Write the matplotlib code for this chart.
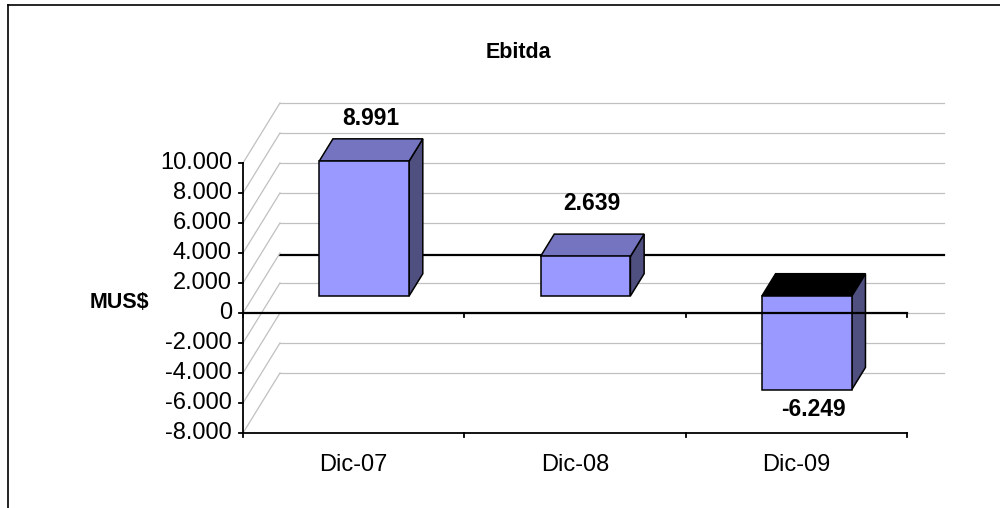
import matplotlib.pyplot as plt
from matplotlib.patches import Polygon

plt.rcParams['font.family'] = ['Liberation Sans', 'DejaVu Sans']

# data
categories = ['Dic-07', 'Dic-08', 'Dic-09']
ebitda = [8991, 2639, -6249]
value_labels = ['8.991', '2.639', '-6.249']
y_ticks = [-8000, -6000, -4000, -2000, 0, 2000, 4000, 6000, 8000, 10000]
y_tick_labels = ['-8.000', '-6.000', '-4.000', '-2.000', '0',
                 '2.000', '4.000', '6.000', '8.000', '10.000']

# fake 3d: depth d in [0, 1] shifts a point right and up
DX, DY = 0.167, 4000
D_FRONT, D_BACK = 0.283, 0.655   # depth of bar front / back faces
HALF_W = 0.203

def proj(x, v, d):
    return (x + d * DX, v + d * DY)

fig = plt.figure(figsize=(10, 5.08), dpi=100)
ax = fig.add_axes([0, 0, 1, 1])
# front axis: x 0..3 -> 243..907 px, value 0 at 313 px from top, 15 px per 1000
ax.set_xlim(-243 / 221.33, (1000 - 243) / 221.33)
ax.set_ylim((313 - 508) / 0.015, 313 / 0.015)
ax.axis('off')

n = len(categories)
grid_c = '#c0c0c0'

# back wall + left wall grid
for v in y_ticks:
    (x0, y0), (x1, y1) = proj(0, v, 1), proj(n, v, 1)
    if v == 0:
        ax.plot([x0, x1], [y0 - 150, y1 - 150], color='black', lw=1.6, zorder=1)
    else:
        ax.plot([x0, x1], [y0, y1], color=grid_c, lw=0.9, zorder=1)
    (a0, b0), (a1, b1) = proj(0, v, 0), proj(0, v, 1)
    ax.plot([a0, a1], [b0, b1], color=grid_c, lw=0.9, zorder=1)

# bars
for i, val in enumerate(ebitda):
    xc = i + 0.5
    l, r = xc - HALF_W, xc + HALF_W
    top = max(val, 0)
    front = [proj(l, 0, D_FRONT), proj(r, 0, D_FRONT), proj(r, val, D_FRONT), proj(l, val, D_FRONT)]
    side = [proj(r, 0, D_FRONT), proj(r, val, D_FRONT), proj(r, val, D_BACK), proj(r, 0, D_BACK)]
    cap = [proj(l, top, D_FRONT), proj(r, top, D_FRONT), proj(r, top, D_BACK), proj(l, top, D_BACK)]
    ax.add_patch(Polygon(side, closed=True, fc='#4f4f80', ec='black', lw=1.1, zorder=3))
    ax.add_patch(Polygon(cap, closed=True, fc='#7474c0' if val > 0 else 'black',
                         ec='black', lw=1.1, zorder=3))
    ax.add_patch(Polygon(front, closed=True, fc='#9999ff', ec='black', lw=1.1, zorder=4))

# value labels
label_offsets = [23, 30, -22]
for i, val in enumerate(ebitda):
    dm = (D_FRONT + D_BACK) / 2
    ax.annotate(value_labels[i], proj(i + 0.5, val, dm), xytext=(0, label_offsets[i]),
                textcoords='offset points', ha='center', va='center',
                fontsize=16.5, fontweight='bold', zorder=6)

# front axes
tick_dx = 4 / 221.33
tick_dv = 4 / 0.015
ax.plot([0, 0], [y_ticks[0], y_ticks[-1]], color='black', lw=1.3, zorder=5)
for v, lab in zip(y_ticks, y_tick_labels):
    ax.plot([-tick_dx, 0], [v, v], color='black', lw=1.3, zorder=5)
    ax.text(-0.05, v, lab, ha='right', va='center', fontsize=17)
ax.plot([0, n], [0, 0], color='black', lw=1.6, zorder=5)
ax.plot([0, n], [y_ticks[0], y_ticks[0]], color='black', lw=1.3, zorder=5)
for k in range(n + 1):
    ax.plot([k, k], [0, -tick_dv], color='black', lw=1.3, zorder=5)
    ax.plot([k, k], [y_ticks[0], y_ticks[0] - tick_dv], color='black', lw=1.3, zorder=5)
for i, cat in enumerate(categories):
    ax.annotate(cat, (i + 0.5, y_ticks[0]), xytext=(0, -23), textcoords='offset points',
                ha='center', va='center', fontsize=17)

ax.text(-0.56, 733, 'MUS$', ha='center', va='center', fontsize=15.5, fontweight='bold')
fig.text(0.518, 1 - 52 / 508, 'Ebitda', ha='center', va='center', fontsize=15.5, fontweight='bold')

# chart border (runs off the right and bottom edges)
fig.add_artist(plt.Line2D([0.008, 1.0], [1 - 5 / 508, 1 - 5 / 508], color='black', lw=1.2))
fig.add_artist(plt.Line2D([0.008, 0.008], [0, 1 - 5 / 508], color='black', lw=1.2))

plt.savefig('out.png', dpi=100)
